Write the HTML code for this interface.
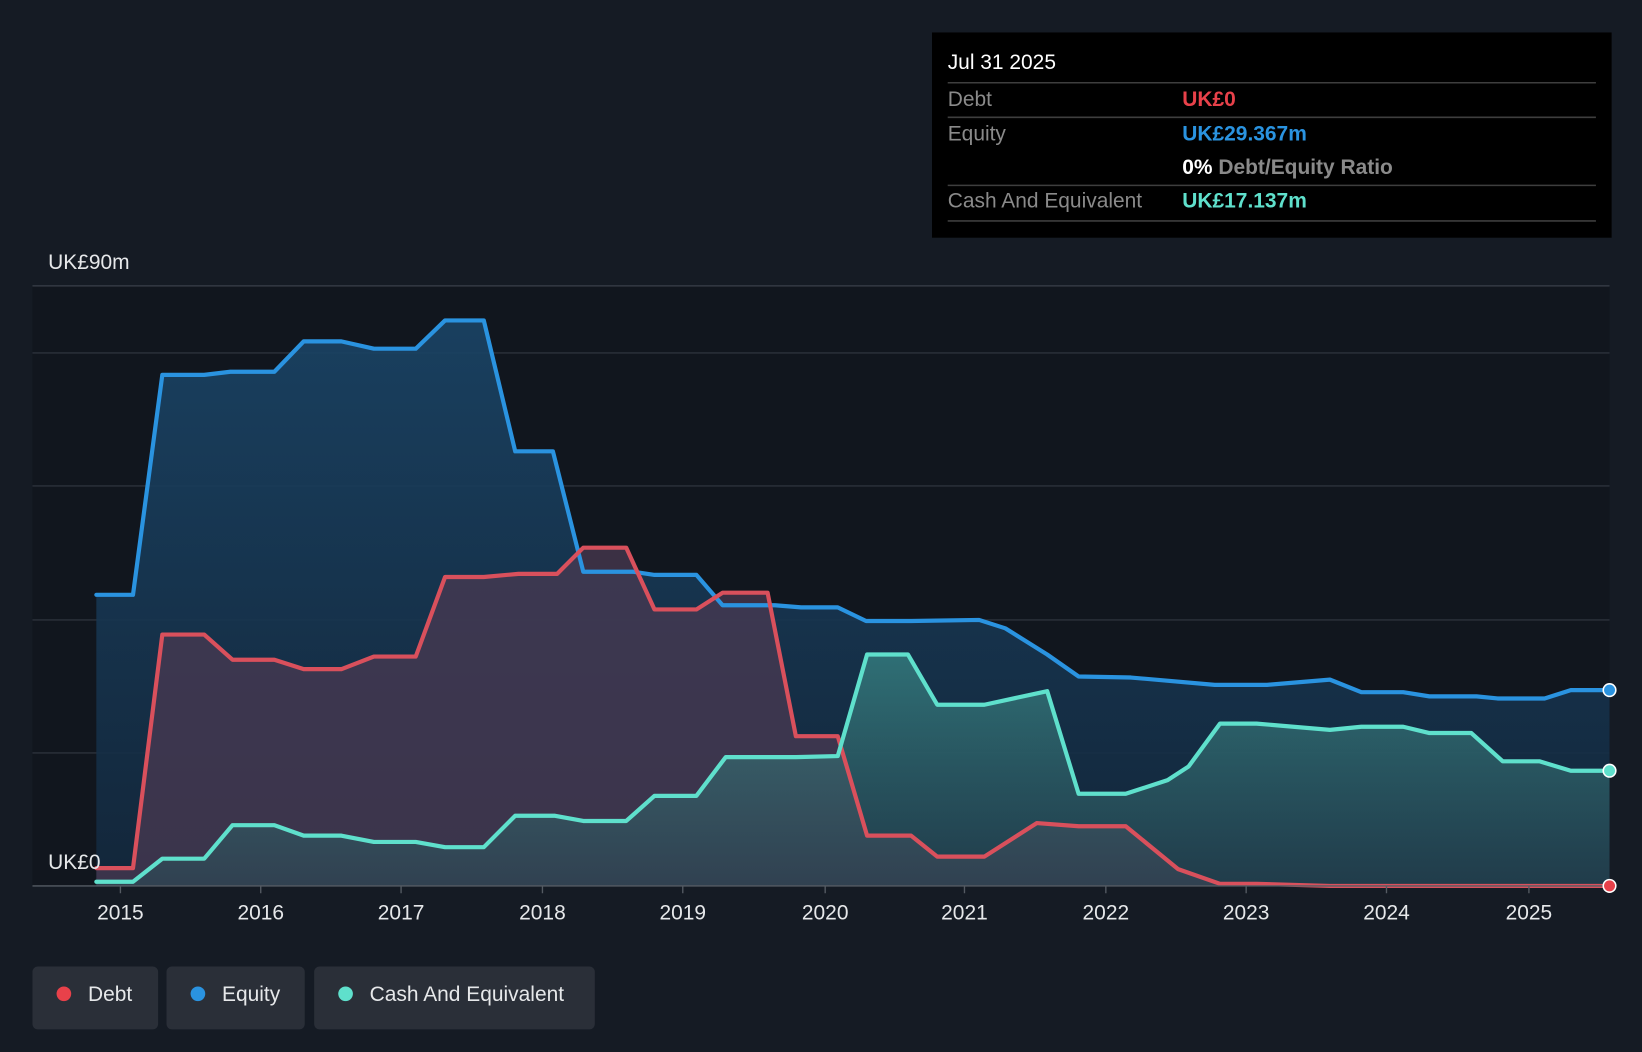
<!DOCTYPE html>
<html><head><meta charset="utf-8"><style>
html,body{margin:0;padding:0;background:#151b24;}
svg{display:block;font-family:"Liberation Sans",sans-serif;}
</style></head><body>
<svg width="1642" height="1052" viewBox="0 0 1568 1004.6" preserveAspectRatio="none">
<defs>
<linearGradient id="ge" x1="0" y1="0" x2="0" y2="1"><stop offset="0" stop-color="#1a4466" stop-opacity="0.9"/><stop offset="1" stop-color="#13283d" stop-opacity="0.9"/></linearGradient>
<linearGradient id="gc" x1="0" y1="0" x2="0" y2="1"><stop offset="0" stop-color="#3a8a88" stop-opacity="0.7"/><stop offset="1" stop-color="#2a4a55" stop-opacity="0.6"/></linearGradient>
</defs>
<rect x="0" y="0" width="1568" height="1005" fill="#151b24"/>
<rect x="31" y="273" width="1506" height="573" fill="#11161e"/>
<g stroke="#2c323b" stroke-width="1.3">
<line x1="31" y1="273" x2="1537" y2="273" stroke="#3a4049"/>
<line x1="31" y1="337" x2="1537" y2="337"/>
<line x1="31" y1="464" x2="1537" y2="464"/>
<line x1="31" y1="592" x2="1537" y2="592"/>
<line x1="31" y1="719" x2="1537" y2="719"/>
</g>
<polygon fill="url(#ge)" points="92,846 92,568 127,568 155,358 195,358 220,355 262,355 290,326 326,326 357,333 397,333 425,306 462,306 492,431 528,431 557,546 605,546 625,549 665,549 690,578 740,578 765,580 800,580 827,593 870,593 935,592 960,600 1000,625 1030,646 1080,647 1160,654 1210,654 1270,649 1300,661 1340,661 1365,665 1410,665 1430,667 1475,667 1500,659 1537,659 1537,846"/>
<polygon fill="#4a3a52" fill-opacity="0.75" points="92,846 92,829 127,829 155,606 195,606 222,630 262,630 290,639 326,639 357,627 397,627 425,551 462,551 495,548 532,548 557,523 598,523 625,582 665,582 690,566 733,566 760,703 800,703 828,798 870,798 895,818 940,818 990,786 1030,789 1075,789 1125,830 1165,844 1200,844 1270,846 1537,846"/>
<polygon fill="url(#gc)" points="92,846 92,842 127,842 155,820 195,820 222,788 262,788 290,798 326,798 357,804 397,804 425,809 462,809 492,779 530,779 557,784 598,784 625,760 665,760 693,723 760,723 800,722 828,625 867,625 895,673 940,673 1000,660 1030,758 1075,758 1115,745 1135,732 1165,691 1200,691 1270,697 1300,694 1340,694 1365,700 1405,700 1435,727 1470,727 1500,736 1537,736 1537,846"/>
<g fill="none" stroke-width="4" stroke-linejoin="round" stroke-linecap="round">
<polyline stroke="#2a93e0" points="92,568 127,568 155,358 195,358 220,355 262,355 290,326 326,326 357,333 397,333 425,306 462,306 492,431 528,431 557,546 605,546 625,549 665,549 690,578 740,578 765,580 800,580 827,593 870,593 935,592 960,600 1000,625 1030,646 1080,647 1160,654 1210,654 1270,649 1300,661 1340,661 1365,665 1410,665 1430,667 1475,667 1500,659 1537,659"/>
<polyline stroke="#d9505c" points="92,829 127,829 155,606 195,606 222,630 262,630 290,639 326,639 357,627 397,627 425,551 462,551 495,548 532,548 557,523 598,523 625,582 665,582 690,566 733,566 760,703 800,703 828,798 870,798 895,818 940,818 990,786 1030,789 1075,789 1125,830 1165,844 1200,844 1270,846 1537,846"/>
<polyline stroke="#5fe0cc" points="92,842 127,842 155,820 195,820 222,788 262,788 290,798 326,798 357,804 397,804 425,809 462,809 492,779 530,779 557,784 598,784 625,760 665,760 693,723 760,723 800,722 828,625 867,625 895,673 940,673 1000,660 1030,758 1075,758 1115,745 1135,732 1165,691 1200,691 1270,697 1300,694 1340,694 1365,700 1405,700 1435,727 1470,727 1500,736 1537,736"/>
</g>
<line x1="31" y1="846" x2="1537" y2="846" stroke="#555b63" stroke-width="1.3"/>
<circle cx="1537" cy="659" r="6" fill="#2a93e0" stroke="#fff" stroke-width="1.5"/>
<circle cx="1537" cy="736" r="6" fill="#5fe0cc" stroke="#fff" stroke-width="1.5"/>
<circle cx="1537" cy="846" r="6" fill="#e8414a" stroke="#fff" stroke-width="1.5"/>
<g stroke="#555b63" stroke-width="1.3">
<line x1="115" y1="846" x2="115" y2="853"/><line x1="249" y1="846" x2="249" y2="853"/><line x1="383" y1="846" x2="383" y2="853"/><line x1="518" y1="846" x2="518" y2="853"/><line x1="652" y1="846" x2="652" y2="853"/><line x1="788" y1="846" x2="788" y2="853"/><line x1="921" y1="846" x2="921" y2="853"/><line x1="1056" y1="846" x2="1056" y2="853"/><line x1="1190" y1="846" x2="1190" y2="853"/><line x1="1324" y1="846" x2="1324" y2="853"/><line x1="1460" y1="846" x2="1460" y2="853"/>
</g>
<g fill="#e6e8ea" font-size="20" text-anchor="middle">
<text x="115" y="878">2015</text><text x="249" y="878">2016</text><text x="383" y="878">2017</text><text x="518" y="878">2018</text><text x="652" y="878">2019</text><text x="788" y="878">2020</text><text x="921" y="878">2021</text><text x="1056" y="878">2022</text><text x="1190" y="878">2023</text><text x="1324" y="878">2024</text><text x="1460" y="878">2025</text>
</g>
<text x="46" y="257" fill="#e6e8ea" font-size="20">UK£90m</text>
<text x="46" y="830" fill="#e6e8ea" font-size="20">UK£0</text>
<rect x="890" y="31" width="649" height="196" fill="#000"/>
<text x="905" y="66" fill="#fff" font-size="20">Jul 31 2025</text>
<g stroke="#3e3e3e" stroke-width="1.5">
<line x1="905" y1="79" x2="1524" y2="79"/><line x1="905" y1="112" x2="1524" y2="112"/><line x1="905" y1="177" x2="1524" y2="177"/><line x1="905" y1="211" x2="1524" y2="211"/>
</g>
<g font-size="20">
<text x="905" y="101" fill="#8a8a8a">Debt</text>
<text x="1129" y="101" fill="#e8414a" font-weight="bold">UK£0</text>
<text x="905" y="134" fill="#8a8a8a">Equity</text>
<text x="1129" y="134" fill="#2a93e0" font-weight="bold">UK£29.367m</text>
<text x="1129" y="166" fill="#fff" font-weight="bold">0%<tspan fill="#8a8a8a" font-weight="bold"> Debt/Equity Ratio</tspan></text>
<text x="905" y="198" fill="#8a8a8a">Cash And Equivalent</text>
<text x="1129" y="198" fill="#5fe0cc" font-weight="bold">UK£17.137m</text>
</g>
<rect x="31" y="923" width="120" height="60" rx="5" fill="#2a2f38"/>
<rect x="159" y="923" width="132" height="60" rx="5" fill="#2a2f38"/>
<rect x="300" y="923" width="268" height="60" rx="5" fill="#2a2f38"/>
<circle cx="61" cy="949" r="7" fill="#e8414a"/>
<circle cx="189" cy="949" r="7" fill="#2a93e0"/>
<circle cx="330" cy="949" r="7" fill="#5fe0cc"/>
<g fill="#e6e8ea" font-size="20">
<text x="84" y="956">Debt</text><text x="212" y="956">Equity</text><text x="353" y="956">Cash And Equivalent</text>
</g>
</svg>
</body></html>
